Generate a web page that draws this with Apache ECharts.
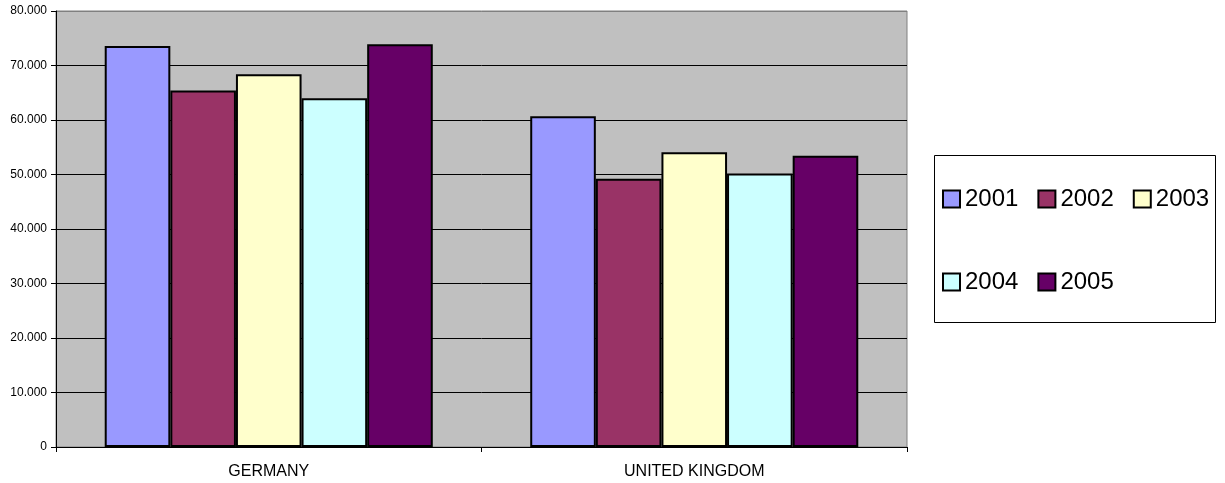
<!DOCTYPE html>
<html>
<head>
<meta charset="utf-8">
<script src="https://cdn.jsdelivr.net/npm/echarts@6/dist/echarts.min.js"></script>
<style>html,body{margin:0;padding:0;background:#fff;}#c{width:1225px;height:483px;}</style>
</head>
<body>
<div id="c"></div>
<script>
var categories = ['GERMANY', 'UNITED KINGDOM'];
var seriesNames = ['2001', '2002', '2003', '2004', '2005'];
var v2001 = [73600, 60700];
var v2002 = [65400, 49200];
var v2003 = [68400, 54100];
var v2004 = [64000, 50200];
var v2005 = [73900, 53450];
var yTicks = [0, 10000, 20000, 30000, 40000, 50000, 60000, 70000, 80000];
var colors = ['#9999FF', '#993366', '#FFFFCC', '#CCFFFF', '#660066'];
var values = [v2001, v2002, v2003, v2004, v2005];

var chart = echarts.init(document.getElementById('c'));
var font = '"Liberation Sans", Arial, sans-serif';
var series = seriesNames.map(function (n, i) {
  return {
    name: n, type: 'bar', data: values[i],
    barGap: '0%', barCategoryGap: '22.9%',
    itemStyle: { color: colors[i], borderColor: '#000', borderWidth: 2 },
    emphasis: { disabled: true }
  };
});
var gridColors = yTicks.map(function (t, i) { return i === yTicks.length - 1 ? '#808080' : '#000'; });
var legendText = { fontFamily: font, fontSize: 24, color: '#000' };
chart.setOption({
  animation: false,
  textStyle: { fontFamily: font },
  grid: { left: 56, right: 318, top: 11, bottom: 36, show: true, backgroundColor: '#C0C0C0', borderColor: '#808080', borderWidth: 1 },
  graphic: [{ type: 'rect', z: 0, shape: { x: 934.5, y: 155.5, width: 281, height: 167 }, style: { fill: '#fff', stroke: '#000', lineWidth: 1 } }],
  legend: [
    { data: seriesNames.slice(0, 3), left: 942, top: 187, padding: 0, itemWidth: 17, itemHeight: 17, itemGap: 19, selectedMode: false, icon: 'rect', textStyle: legendText },
    { data: seriesNames.slice(3), left: 942, top: 270, padding: 0, itemWidth: 17, itemHeight: 17, itemGap: 19, selectedMode: false, icon: 'rect', textStyle: legendText }
  ],
  xAxis: {
    type: 'category', data: categories,
    axisLine: { lineStyle: { color: '#000', width: 1 } },
    axisTick: { show: true, length: 5, lineStyle: { color: '#000' } },
    axisLabel: { color: '#000', fontSize: 16, margin: 17, fontFamily: font }
  },
  yAxis: {
    type: 'value', min: 0, max: 80000, interval: 10000,
    axisLine: { show: true, lineStyle: { color: '#000', width: 1 } },
    axisTick: { show: true, length: 5, lineStyle: { color: '#000' } },
    splitLine: { show: true, lineStyle: { color: gridColors, width: 1 } },
    axisLabel: { color: '#000', fontSize: 12, margin: 9, fontFamily: font,
      formatter: function (v) { return v === 0 ? '0' : String(v).replace(/\B(?=(\d{3})+(?!\d))/g, '.'); } }
  },
  series: series
});
</script>
</body>
</html>
